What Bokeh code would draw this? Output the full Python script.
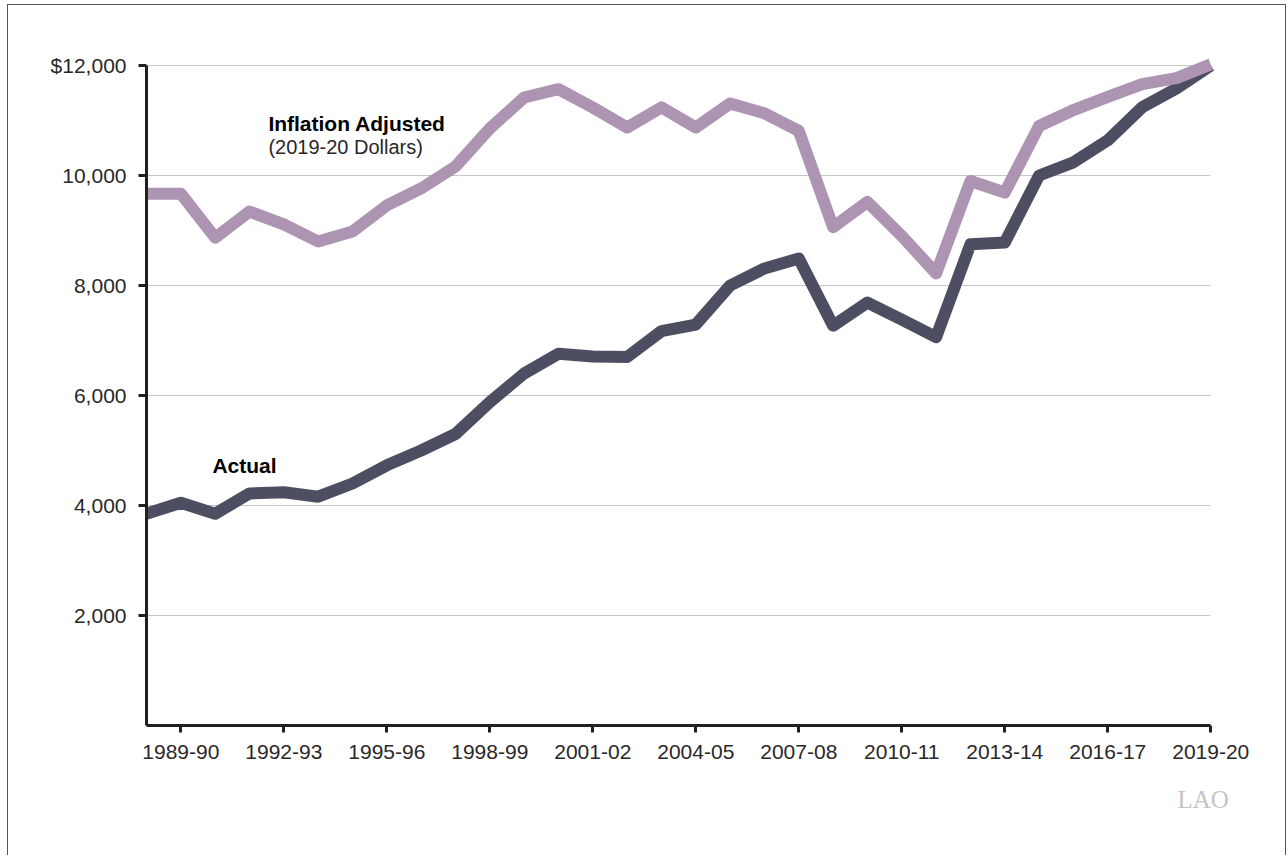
from bokeh.plotting import figure
from bokeh.models import Range1d, FixedTicker, Label, ColumnDataSource, Title
from bokeh.embed import file_html
from bokeh.resources import INLINE

# ---- data ----
years = ["1988-89", "1989-90", "1990-91", "1991-92", "1992-93", "1993-94", "1994-95",
         "1995-96", "1996-97", "1997-98", "1998-99", "1999-00", "2000-01", "2001-02",
         "2002-03", "2003-04", "2004-05", "2005-06", "2006-07", "2007-08", "2008-09",
         "2009-10", "2010-11", "2011-12", "2012-13", "2013-14", "2014-15", "2015-16",
         "2016-17", "2017-18", "2018-19", "2019-20"]
actual = [3850, 4050, 3850, 4220, 4240, 4160, 4400, 4730, 5000, 5300, 5880, 6400,
          6760, 6710, 6700, 7170, 7290, 8000, 8310, 8490, 7270, 7690, 7380, 7060,
          8750, 8780, 10000, 10240, 10640, 11240, 11580, 12000]
inflation_adjusted = [9670, 9670, 8870, 9345, 9110, 8800, 8980, 9455, 9764, 10164, 10855,
                      11418, 11570, 11236, 10873, 11240, 10873, 11309, 11130, 10810, 9060,
                      9520, 8900, 8220, 9900, 9690, 10900, 11190, 11430, 11660, 11770, 12020]
x_tick_labels = ["1989-90", "1992-93", "1995-96", "1998-99", "2001-02", "2004-05",
                 "2007-08", "2010-11", "2013-14", "2016-17", "2019-20"]
y_ticks = [2000, 4000, 6000, 8000, 10000, 12000]
y_tick_labels = ["2,000", "4,000", "6,000", "8,000", "10,000", "$12,000"]

idx = list(range(len(years)))
src = ColumnDataSource(dict(x=idx, year=years, actual=actual, infl=inflation_adjusted))

TEXT = "#2a2728"
FONT = "Liberation Sans"

p = figure(width=1279, height=851, output_backend="svg", toolbar_location=None,
           x_range=Range1d(0, 31.4), y_range=Range1d(0, 12400),
           min_border_left=138, min_border_right=63, min_border_top=38,
           min_border_bottom=131)
p.styles = {"margin-left": "7px", "margin-top": "4px",
            "border-style": "solid solid none solid", "border-width": "1px",
            "border-color": "#555555"}
p.outline_line_color = None
p.background_fill_color = "white"
p.border_fill_color = "white"

# lines
p.line("x", "actual", source=src, line_color="#4e4e63", line_width=12,
       line_join="round", line_cap="butt")
p.line("x", "infl", source=src, line_color="#ad94b2", line_width=12,
       line_join="round", line_cap="butt")

# x axis
xtick_pos = [years.index(t) for t in x_tick_labels]
xa = p.xaxis[0]
xa.ticker = FixedTicker(ticks=xtick_pos)
xa.major_label_overrides = {i: years[i] for i in xtick_pos}
xa.bounds = (0, len(years) - 1)
xa.axis_line_color = "#231f20"
xa.axis_line_width = 3
xa.major_tick_line_color = "#231f20"
xa.major_tick_line_width = 3
xa.major_tick_out = 7
xa.major_tick_in = 0
xa.minor_tick_line_color = None
xa.major_label_text_font = FONT
xa.major_label_text_font_size = "21px"
xa.major_label_text_color = TEXT
xa.major_label_standoff = 12

# y axis
ya = p.yaxis[0]
ya.ticker = FixedTicker(ticks=y_ticks)
ya.major_label_overrides = {v: l for v, l in zip(y_ticks, y_tick_labels)}
ya.bounds = (0, y_ticks[-1])
ya.axis_line_color = "#231f20"
ya.axis_line_width = 3
ya.major_tick_line_color = "#231f20"
ya.major_tick_line_width = 3
ya.major_tick_out = 8
ya.major_tick_in = 0
ya.minor_tick_line_color = None
ya.major_label_text_font = FONT
ya.major_label_text_font_size = "21px"
ya.major_label_text_color = TEXT
ya.major_label_standoff = 12

p.xgrid.visible = False
p.ygrid.ticker = FixedTicker(ticks=y_ticks)
p.ygrid.grid_line_color = "#c8c8c8"
p.ygrid.grid_line_width = 1
try:
    p.ygrid.cross_bounds = (0, len(years) - 1)
except Exception:
    pass

# annotations
p.add_layout(Label(x=3.55, y=10950, text="Inflation Adjusted", text_font=FONT,
                   text_font_size="21px", text_font_style="bold", text_color="black",
                   text_baseline="alphabetic"))
p.add_layout(Label(x=3.55, y=10510, text="(2019-20 Dollars)", text_font=FONT,
                   text_font_size="20px", text_color=TEXT, text_baseline="alphabetic"))
p.add_layout(Label(x=1.92, y=4725, text="Actual", text_font=FONT,
                   text_font_size="21px", text_font_style="bold", text_color="black",
                   text_baseline="alphabetic"))

# LAO mark in the bottom-right corner
p.add_layout(Title(text="LAO", align="left", offset=1031, standoff=44,
                   text_font="Liberation Serif", text_font_size="25px",
                   text_font_style="normal", text_color="#c4c4c4"), "below")

open("out.html", "w").write(file_html(p, INLINE))
